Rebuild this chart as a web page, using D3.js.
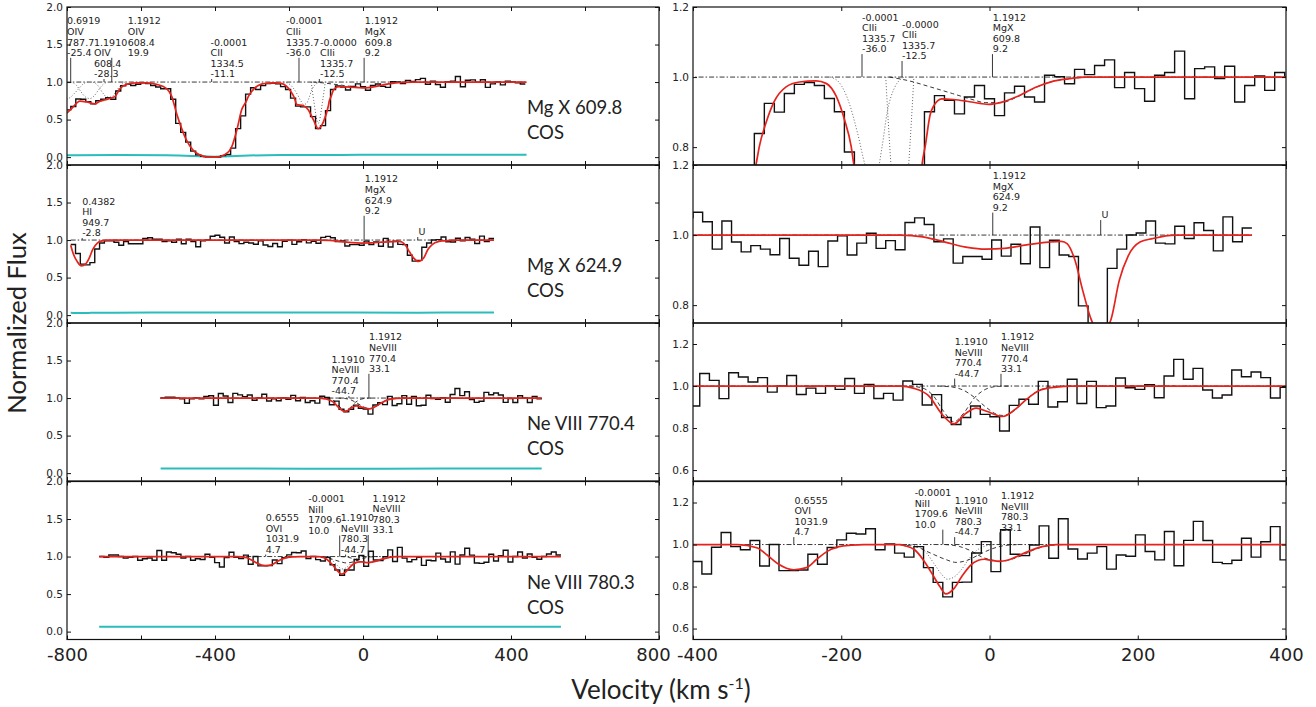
<!DOCTYPE html>
<html>
<head>
<meta charset="utf-8">
<script src="https://cdn.jsdelivr.net/npm/d3@7"></script>
<style>
  body { margin: 0; background: #fff; }
  svg { display: block; }
  .ann { font-family: 'DejaVu Sans', sans-serif; font-size: 9.5px; fill: #222; }
  .tick text { font-family: 'DejaVu Sans', sans-serif; font-size: 10.5px; fill: #222; }
  .big { font-family: Lato, 'Open Sans', sans-serif; fill: #222; }
</style>
</head>
<body>
<div id="chart"></div>
<script>
// ---------------- data ----------------
// binned flux: first bin edge (km/s), bin width (km/s), normalized flux per bin
var binStart1 = -803.25, binWidth1 = 13.5;
var flux1 = [0.63, 0.675, 0.775, 0.77, 0.74, 0.71, 0.75, 0.77, 0.79, 0.77, 0.88, 0.95, 0.97, 0.955, 0.97,
  0.99, 0.98, 0.955, 0.935, 0.91, 0.91, 0.77, 0.45, 0.33, 0.2, 0.08, 0.03, 0.01, 0.0, 0.0, 0.0, 0.02, 0.035,
  0.12, 0.38, 0.55, 0.839, 0.925, 0.90, 0.953, 0.979, 0.984, 0.976, 0.939, 0.901, 0.786, 0.68, 0.67, 0.67,
  0.54, 0.38, 0.42, 0.62, 0.901, 0.947, 0.934, 0.895, 0.943, 0.976, 0.938, 0.89, 0.955, 0.974, 0.943, 0.929,
  1.005, 1.001, 0.981, 1.022, 1.007, 1.033, 1.049, 0.97, 1.013, 0.967, 0.931, 1.005, 1.013, 1.074, 0.938,
  1.024, 1.029, 0.996, 1.031, 0.929, 0.976, 1.003, 0.962, 1.013, 1.0, 0.99, 0.975];

var binStart2 = -790, binWidth2 = 13.0;
var flux2 = [0.94, 0.82, 0.68, 0.67, 0.70, 0.88, 0.96, 0.99, 0.99, 0.97, 0.93, 0.98, 0.95, 0.95, 0.95, 1.02,
  1.03, 1.01, 1.01, 0.98, 0.99, 0.97, 1.01, 0.95, 1.01, 0.98, 0.91, 0.99, 1.00, 1.05,
  1.065, 1.038, 0.96, 1.04, 0.98, 0.952, 0.97, 0.96, 0.944, 0.99, 0.934, 0.914, 0.954, 0.91, 0.983, 0.998,
  0.943, 0.977, 1.005, 0.962, 0.984, 0.958, 1.036, 1.049, 1.03, 0.981, 0.989, 0.92, 0.939, 0.939, 0.931,
  0.986, 0.94, 0.974, 0.918, 1.023, 0.907, 0.985, 0.943, 0.939, 0.798, 0.72, 0.73, 0.905, 0.96, 1.0, 1.006,
  1.04, 0.977, 0.975, 1.025, 0.99, 1.035, 1.013, 0.955, 1.052, 0.981, 1.02];

var binStart3 = -547.5, binWidth3 = 13.05;
var flux3 = [1.0, 1.01, 1.01, 1.0, 0.99, 0.93, 0.99, 1.0, 0.99, 1.02, 1.03, 0.905,
  1.06, 1.027, 0.94, 1.063, 1.043, 1.019, 1.04, 0.971, 1.0, 1.05, 0.96, 0.99, 0.965, 1.0, 0.984, 1.036, 0.965,
  1.008, 0.941, 0.965, 0.933, 1.024, 1.008, 0.91, 0.959, 0.85, 0.817, 0.85, 0.905, 0.865, 0.854, 0.786, 0.908,
  0.937, 0.913, 1.022, 0.90, 0.925, 1.032, 0.917, 1.022, 0.897, 0.905, 1.038, 0.992, 0.984, 1.006, 0.944,
  1.048, 1.127, 1.032, 1.084, 0.981, 0.943, 0.957, 1.076, 1.044, 1.067, 1.04, 0.943,
  0.994, 0.94, 1.03, 1.0, 0.94, 1.02, 0.99];

var binStart4 = -713, binWidth4 = 13.0;
var flux4 = [1.0, 0.99, 1.02, 1.02, 1.0, 0.98, 0.99, 1.0, 0.95, 0.97, 0.98, 0.95, 1.08, 0.95, 1.06, 1.05, 1.03,
  0.98, 1.0, 0.95, 0.97, 0.96, 1.03, 0.99,
  0.919, 0.86, 0.987, 1.057, 0.99, 0.975, 1.019, 0.898, 1.0, 0.876, 0.876, 0.879, 0.954, 0.906, 0.986, 1.022,
  1.054, 1.05, 1.075, 0.975, 1.003, 0.959, 0.94, 0.99, 0.89, 0.82, 0.751, 0.82, 0.821, 0.96, 1.014, 0.871,
  1.07, 0.954, 0.947, 0.998, 1.089, 0.935, 1.123, 0.979, 0.931, 0.959, 0.99, 0.883, 0.95, 0.944, 1.046, 0.967,
  0.927, 1.062, 0.899, 1.02, 1.11, 1.019, 0.915, 0.909, 0.925, 1.03, 0.94, 1.013, 1.085, 0.927,
  1.0, 1.06, 0.98, 1.035, 0.99, 0.965, 1.0, 1.035, 1.06, 1.02];

// fitted model (red), [velocity, flux] samples
var model1 = [[-801, 0.585], [-787, 0.65], [-765, 0.745], [-747, 0.735], [-724, 0.71], [-711, 0.745], [-688, 0.775],
  [-670, 0.81], [-657, 0.91], [-639, 0.97], [-612, 0.99], [-585, 0.99], [-558, 0.97], [-530, 0.91], [-517, 0.81],
  [-504, 0.585], [-490, 0.38], [-477, 0.225], [-459, 0.09], [-441, 0.03], [-423, 0.0], [-395, 0.0], [-373, 0.035],
  [-355, 0.135], [-340, 0.38], [-328, 0.63], [-315, 0.75], [-310.4, 0.803], [-301.4, 0.87], [-290.2, 0.931],
  [-274.4, 0.972], [-256.4, 0.986], [-233.9, 0.989], [-220.5, 0.982], [-207, 0.946], [-195.7, 0.879],
  [-186.7, 0.803], [-183, 0.75], [-179, 0.70], [-161, 0.685], [-148, 0.63], [-134, 0.495], [-121, 0.38],
  [-107, 0.47], [-94, 0.675], [-91, 0.75], [-86.7, 0.803], [-80, 0.893], [-75.5, 0.917], [-64.3, 0.938],
  [-48.6, 0.936], [-30.6, 0.931], [-12.6, 0.925], [-1.3, 0.922], [14.4, 0.927], [39.1, 0.946], [61.6, 0.97],
  [84.1, 0.987], [106.6, 0.995], [129.1, 1.0], [442, 1.0]];
var model2 = [[-790, 0.93], [-784, 0.83], [-772, 0.71], [-761, 0.655], [-750, 0.68], [-740, 0.76], [-730, 0.88],
  [-718, 0.96], [-705, 0.99], [-690, 1.0], [-120, 1.0], [-90, 0.995], [-60, 0.98], [-30, 0.965], [-5, 0.96],
  [20, 0.962], [50, 0.972], [80, 0.98], [97, 0.982], [105, 0.975], [115, 0.93], [126, 0.84], [137, 0.76],
  [150, 0.715], [164, 0.76], [175, 0.87], [187, 0.94], [203, 0.98], [220, 0.99], [250, 1.0], [354, 1.0]];
var model3 = [[-547, 1.0], [-120, 1.0], [-103, 0.99], [-81, 0.95], [-65, 0.87], [-48, 0.82], [-32, 0.87],
  [-18, 0.895], [-4, 0.88], [18, 0.855], [35, 0.89], [51, 0.94], [68, 0.98], [90, 0.995], [110, 1.0], [483, 1.0]];
var model4 = [[-713, 1.0], [-340, 1.0], [-314, 0.985], [-300, 0.95], [-286, 0.91], [-264, 0.88], [-247, 0.89],
  [-233, 0.93], [-220, 0.965], [-203, 0.99], [-186, 0.997], [-170, 1.0], [-120, 1.0], [-115, 0.995],
  [-101, 0.975], [-90, 0.93], [-79, 0.87], [-67, 0.8], [-59, 0.765], [-48, 0.79], [-37, 0.85], [-26, 0.9],
  [-15, 0.925], [-7, 0.93], [2, 0.925], [13, 0.92], [24, 0.925], [35, 0.94], [51, 0.965], [71, 0.99],
  [90, 1.0], [535, 1.0]];

// flux error (cyan)
var err1 = [[-800, 0.025], [-650, 0.028], [-520, 0.028], [-460, 0.015], [-420, 0.005], [-380, 0.006],
  [-330, 0.02], [-250, 0.028], [0, 0.03], [200, 0.032], [442, 0.032]];
var err2 = [[-790, 0.03], [-740, 0.028], [-700, 0.036], [100, 0.036], [150, 0.03], [200, 0.036], [354, 0.036]];
var err3 = [[-547, 0.06], [-100, 0.06], [0, 0.058], [483, 0.063]];
var err4 = [[-713, 0.065], [0, 0.063], [535, 0.065]];

// individual components: dotted and dashed profiles
var dotted1 = [
  [[-801, 0.77], [-790, 0.80], [-778, 0.86], [-765, 0.93], [-755, 0.98], [-745, 1.0]],
  [[-790, 1.0], [-775, 0.96], [-762, 0.87], [-750, 0.8], [-738, 0.78], [-726, 0.82], [-714, 0.9], [-702, 0.97], [-690, 1.0]],
  [[-730, 1.0], [-716, 0.95], [-704, 0.86], [-692, 0.8], [-680, 0.8], [-668, 0.87], [-656, 0.95], [-644, 1.0]],
  [[-215, 1.0], [-203, 0.985], [-190, 0.93], [-178, 0.84], [-168, 0.75], [-160, 0.70], [-152, 0.72],
    [-145, 0.80], [-138, 0.90], [-128, 0.97], [-115, 1.0]],
  [[-140, 1.0], [-133, 0.75], [-121, 0.45], [-109, 0.75], [-102, 1.0]]
];
var dashed1 = [
  [[-135, 1.0], [-110, 0.99], [-80, 0.972], [-50, 0.953], [-25, 0.937], [-5, 0.927], [15, 0.927], [40, 0.946],
    [62, 0.97], [84, 0.987], [107, 0.995], [135, 1.0]]
];
var dotted2 = [];
var dashed2 = [];
var dotted3 = [];
var dashed3 = [
  [[-250, 1.0], [-110, 1.0], [-90, 0.99], [-75, 0.95], [-62, 0.88], [-48, 0.83], [-35, 0.87], [-20, 0.945],
    [-5, 0.985], [10, 0.998], [30, 1.0]],
  [[-70, 1.0], [-50, 0.995], [-35, 0.98], [-20, 0.945], [-5, 0.9], [10, 0.865], [18, 0.86], [30, 0.875],
    [45, 0.92], [60, 0.965], [75, 0.99], [95, 1.0], [250, 1.0]]
];
var dotted4 = [
  [[-110, 1.0], [-95, 0.99], [-85, 0.96], [-75, 0.91], [-65, 0.86], [-57, 0.835], [-48, 0.845], [-38, 0.88],
    [-28, 0.93], [-18, 0.97], [-8, 0.99], [5, 1.0]]
];
var dashed4 = [
  [[-130, 1.0], [-100, 0.99], [-80, 0.96], [-60, 0.93], [-45, 0.915], [-30, 0.925], [-15, 0.95], [0, 0.975], [20, 0.995], [40, 1.0]],
  [[-60, 1.0], [-40, 0.99], [-25, 0.97], [-10, 0.94], [5, 0.925], [15, 0.92], [30, 0.93], [45, 0.95], [60, 0.975], [80, 0.995], [100, 1.0]]
];

// line identifications: v = marker velocity, tv = label velocity, lvl = label slot
var annL1 = [
  { txt: ['0.6919', 'OIV', '787.7', '-25.4'], v: -790, tv: -800, lvl: 0 },
  { txt: ['1.1910', 'OIV', '608.4', '-28.3'], v: -700, tv: -727, lvl: 2 },
  { txt: ['1.1912', 'OIV', '608.4', '19.9'], v: -679, tv: -636, lvl: 0 },
  { txt: ['-0.0001', 'CII', '1334.5', '-11.1'], v: -409, tv: -412, lvl: 2 },
  { txt: ['-0.0001', 'CIIi', '1335.7', '-36.0'], v: -173, tv: -208, lvl: 0 },
  { txt: ['-0.0000', 'CIIi', '1335.7', '-12.5'], v: -118, tv: -116, lvl: 2 },
  { txt: ['1.1912', 'MgX', '609.8', '9.2'], v: 3, tv: 5, lvl: 0 }
];
var annR1 = [
  { txt: ['-0.0001', 'CIIi', '1335.7', '-36.0'], v: -172, tv: -172, lvl: -0.35 },
  { txt: ['-0.0000', 'CIIi', '1335.7', '-12.5'], v: -118, tv: -118, lvl: 0.3 },
  { txt: ['1.1912', 'MgX', '609.8', '9.2'], v: 4, tv: 4.5, lvl: -0.35 }
];
var annL2 = [
  { txt: ['0.4382', 'HI', '949.7', '-2.8'], v: -759, tv: -759, lvl: 2.1 },
  { txt: ['1.1912', 'MgX', '624.9', '9.2'], v: 3, tv: 5, lvl: 0 },
  { txt: ['U'], v: 148, tv: 150, lvl: 5 }
];
var annR2 = [
  { txt: ['1.1912', 'MgX', '624.9', '9.2'], v: 4.4, tv: 4.4, lvl: -0.3 },
  { txt: ['U'], v: 150, tv: 151, lvl: 3.4 }
];
var annL3 = [
  { txt: ['1.1910', 'NeVIII', '770.4', '-44.7'], v: -38, tv: -85, lvl: 2.1 },
  { txt: ['1.1912', 'NeVIII', '770.4', '33.1'], v: 16, tv: 16, lvl: 0 }
];
var annR3 = [
  { txt: ['1.1910', 'NeVIII', '770.4', '-44.7'], v: -47, tv: -47, lvl: 0.45 },
  { txt: ['1.1912', 'NeVIII', '770.4', '33.1'], v: 15.5, tv: 15.5, lvl: 0 }
];
var annL4 = [
  { txt: ['0.6555', 'OVI', '1031.9', '4.7'], v: -263, tv: -263, lvl: 2.1 },
  { txt: ['-0.0001', 'NiII', '1709.6', '10.0'], v: -63, tv: -148, lvl: 0.3 },
  { txt: ['1.1910', 'NeVIII', '780.3', '-44.7'], v: -47, tv: -60, lvl: 2.1 },
  { txt: ['1.1912', 'NeVIII', '780.3', '33.1'], v: 14, tv: 26, lvl: 0.25 }
];
var annR4 = [
  { txt: ['0.6555', 'OVI', '1031.9', '4.7'], v: -264, tv: -263, lvl: 0.45 },
  { txt: ['-0.0001', 'NiII', '1709.6', '10.0'], v: -63, tv: -101, lvl: -0.25 },
  { txt: ['1.1910', 'NeVIII', '780.3', '-44.7'], v: -47, tv: -47, lvl: 0.45 },
  { txt: ['1.1912', 'NeVIII', '780.3', '33.1'], v: 14, tv: 15.5, lvl: 0 }
];

var lineNames = ['Mg X 609.8', 'Mg X 624.9', 'Ne VIII 770.4', 'Ne VIII 780.3'];
var instrument = 'COS';
var leftTicksX = [-800, -600, -400, -200, 0, 200, 400, 600, 800];
var rightTicksX = [-400, -200, 0, 200, 400];
var leftTicksY = [0, 0.5, 1.0, 1.5, 2.0];

var rows = [
  { start: binStart1, width: binWidth1, flux: flux1, model: model1, err: err1, dotted: dotted1, dashed: dashed1, annL: annL1, annR: annR1 },
  { start: binStart2, width: binWidth2, flux: flux2, model: model2, err: err2, dotted: dotted2, dashed: dashed2, annL: annL2, annR: annR2 },
  { start: binStart3, width: binWidth3, flux: flux3, model: model3, err: err3, dotted: dotted3, dashed: dashed3, annL: annL3, annR: annR3 },
  { start: binStart4, width: binWidth4, flux: flux4, model: model4, err: err4, dotted: dotted4, dashed: dashed4, annL: annL4, annR: annR4 }
];

// ---------------- layout ----------------
var W = 1316, H = 707;
var rowTop = [7, 165, 323, 481.5], rowH = 158;
var leftRange = [67, 659], rightRange = [693, 1286];
var rightDomY = [[0.749, 1.2], [0.749, 1.2], [0.548, 1.3], [0.548, 1.3]];
var rightTicksY = [[0.8, 1.0, 1.2], [0.8, 1.0, 1.2], [0.6, 0.8, 1.0, 1.2], [0.6, 0.8, 1.0, 1.2]];
var lineGap = 10.6;

var svg = d3.select('#chart').append('svg')
  .attr('width', W).attr('height', H);

var xL = d3.scaleLinear().domain([-800, 800]).range(leftRange);
var xR = d3.scaleLinear().domain([-400, 400]).range(rightRange);

function stepPoints(r) {
  var pts = r.flux.map(function (f, i) { return [r.start + i * r.width, f]; });
  pts.push([r.start + r.flux.length * r.width, r.flux[r.flux.length - 1]]);
  return pts;
}

function drawPanel(r, i, side) {
  var x = side === 'L' ? xL : xR;
  var top = rowTop[i], bottom = top + rowH;
  var y = d3.scaleLinear()
    .domain(side === 'L' ? [-0.105, 2.0] : rightDomY[i])
    .range([bottom, top]);
  var id = 'clip-' + side + i;

  svg.append('clipPath').attr('id', id).append('rect')
    .attr('x', x.range()[0]).attr('y', top)
    .attr('width', x.range()[1] - x.range()[0]).attr('height', rowH);

  var g = svg.append('g').attr('clip-path', 'url(#' + id + ')');
  var lineXY = d3.line().x(function (d) { return x(d[0]); }).y(function (d) { return y(d[1]); });
  var smooth = d3.line().x(function (d) { return x(d[0]); }).y(function (d) { return y(d[1]); })
    .curve(d3.curveMonotoneX);
  var steps = stepPoints(r);
  var vmin = steps[0][0], vmax = steps[steps.length - 1][0];

  // continuum
  g.append('path')
    .attr('d', lineXY([[vmin, 1.0], [vmax, 1.0]]))
    .attr('fill', 'none').attr('stroke', '#222').attr('stroke-width', 0.9)
    .attr('stroke-dasharray', '5,2,1.5,2');

  // error spectrum
  g.append('path')
    .attr('d', d3.line().x(function (d) { return x(d[0]); }).y(function (d) { return y(d[1]); })
      .curve(d3.curveBasis)(r.err))
    .attr('fill', 'none').attr('stroke', '#2bbcbc').attr('stroke-width', 2);

  // components
  r.dotted.forEach(function (c) {
    g.append('path').attr('d', smooth(c))
      .attr('fill', 'none').attr('stroke', '#555').attr('stroke-width', 0.9)
      .attr('stroke-dasharray', '1,2');
  });
  r.dashed.forEach(function (c) {
    g.append('path').attr('d', smooth(c))
      .attr('fill', 'none').attr('stroke', '#222').attr('stroke-width', 0.9)
      .attr('stroke-dasharray', '4,3');
  });

  // data histogram
  g.append('path')
    .attr('d', d3.line().x(function (d) { return x(d[0]); }).y(function (d) { return y(d[1]); })
      .curve(d3.curveStepAfter)(steps))
    .attr('fill', 'none').attr('stroke', '#111').attr('stroke-width', 1.4);

  // model
  g.append('path').attr('d', smooth(r.model))
    .attr('fill', 'none').attr('stroke', '#e5231d').attr('stroke-width', 1.7);

  // identifications
  var ann = side === 'L' ? r.annL : r.annR;
  ann.forEach(function (a) {
    var cy = top + 14 + a.lvl * lineGap;
    var t = g.append('text').attr('class', 'ann')
      .attr('x', x(a.tv)).attr('y', cy + 3.4);
    a.txt.forEach(function (s, k) {
      t.append('tspan').attr('x', x(a.tv)).attr('dy', k ? lineGap : 0).text(s);
    });
    var lineTop = cy + (a.txt.length - 1) * lineGap + 5;
    if (lineTop < y(1.0)) {
      g.append('line')
        .attr('x1', x(a.v)).attr('x2', x(a.v))
        .attr('y1', lineTop).attr('y2', y(1.0))
        .attr('stroke', '#222').attr('stroke-width', 0.9);
    }
  });

  // axes (ticks pointing inward)
  var xt = side === 'L' ? leftTicksX : rightTicksX;
  var yt = side === 'L' ? leftTicksY : rightTicksY[i];
  var isBottom = i === rowTop.length - 1;

  var bottomAxis = d3.axisBottom(x).tickValues(xt).tickSizeInner(-4).tickSizeOuter(0).tickPadding(9)
    .tickFormat(function (d) {
      if (!isBottom) return '';
      if (side === 'L' && d % 400 !== 0) return '';
      return String(d);
    });
  var ab = svg.append('g').attr('transform', 'translate(0,' + bottom + ')').call(bottomAxis);
  ab.selectAll('.tick text').attr('class', 'big').style('font-size', '18px')
    .attr('dx', function (d) {
      // the two labels that meet between the columns are nudged apart
      if (side === 'L' && d === 800) return -6;
      if (side === 'R' && d === -400) return 4;
      return 0;
    });

  svg.append('g').attr('transform', 'translate(0,' + top + ')')
    .call(d3.axisTop(x).tickValues(xt).tickSizeInner(-4).tickSizeOuter(0).tickFormat(''));
  svg.append('g').attr('transform', 'translate(' + x.range()[0] + ',0)')
    .call(d3.axisLeft(y).tickValues(yt).tickSizeInner(-4).tickSizeOuter(0).tickPadding(4)
      .tickFormat(d3.format('.1f')));
  svg.append('g').attr('transform', 'translate(' + x.range()[1] + ',0)')
    .call(d3.axisRight(y).tickValues(yt).tickSizeInner(-4).tickSizeOuter(0).tickFormat(''));

  svg.selectAll('.domain').remove();

  // frame
  svg.append('rect')
    .attr('x', x.range()[0]).attr('y', top)
    .attr('width', x.range()[1] - x.range()[0]).attr('height', rowH)
    .attr('fill', 'none').attr('stroke', '#111').attr('stroke-width', 1.2);

  // transition label
  if (side === 'L') {
    svg.append('text').attr('class', 'big').attr('x', 527).attr('y', top + 107)
      .style('font-size', '18.5px').text(lineNames[i]);
    svg.append('text').attr('class', 'big').attr('x', 527).attr('y', top + 132)
      .style('font-size', '18.5px').text(instrument);
  }
}

rows.forEach(function (r, i) {
  drawPanel(r, i, 'L');
  drawPanel(r, i, 'R');
});

svg.selectAll('.tick line').attr('stroke', '#111');

// axis titles
svg.append('text').attr('class', 'big')
  .attr('transform', 'translate(26,323) rotate(-90)')
  .attr('text-anchor', 'middle')
  .style('font-size', '25.5px')
  .text('Normalized Flux');

var xt = svg.append('text').attr('class', 'big')
  .attr('x', 661).attr('y', 699)
  .attr('text-anchor', 'middle')
  .style('font-size', '26px');
xt.append('tspan').text('Velocity (km s');
xt.append('tspan').attr('dy', -10).style('font-size', '16px').text('-1');
xt.append('tspan').attr('dy', 10).text(')');
</script>
</body>
</html>
